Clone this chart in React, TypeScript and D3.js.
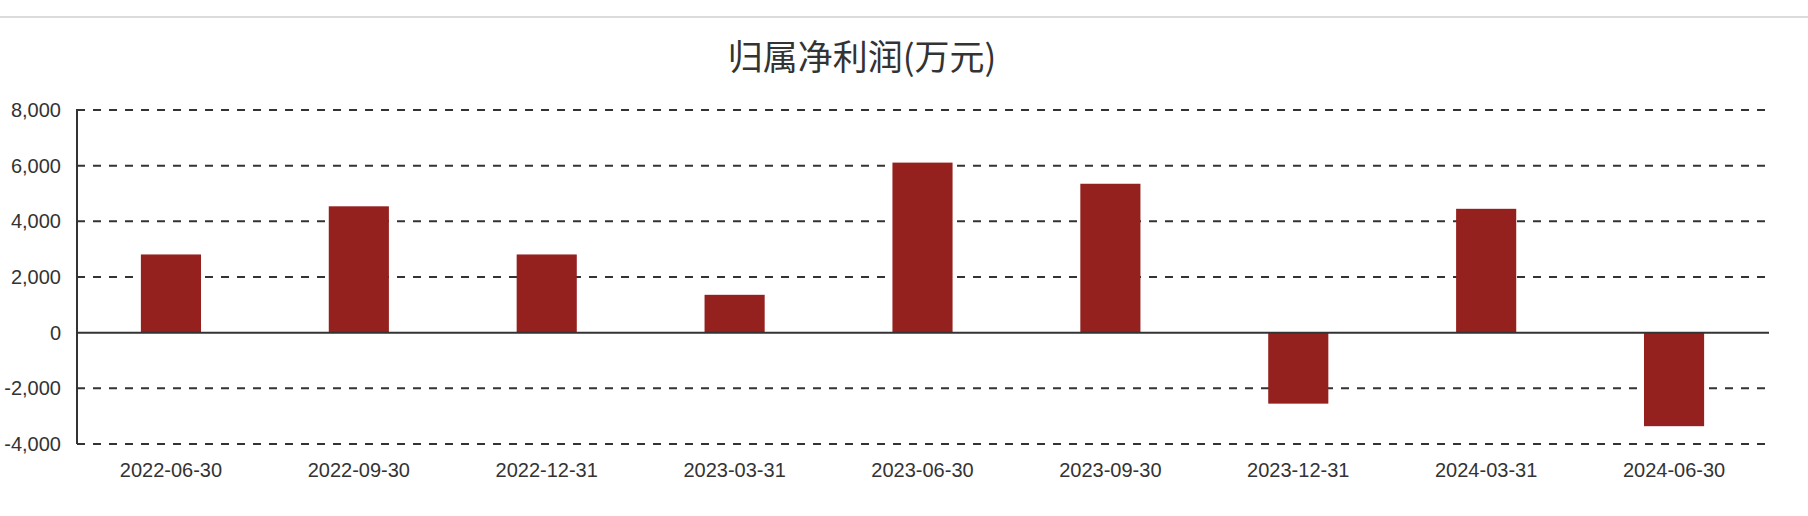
import React from "react";
import * as d3 from "d3";

const title = "归属净利润(万元)";
const categories = [
  "2022-06-30",
  "2022-09-30",
  "2022-12-31",
  "2023-03-31",
  "2023-06-30",
  "2023-09-30",
  "2023-12-31",
  "2024-03-31",
  "2024-06-30",
];
const values = [2810, 4540, 2810, 1360, 6110, 5350, -2550, 4450, -3360];
const yTicks = [-4000, -2000, 0, 2000, 4000, 6000, 8000];

const W = 1808;
const H = 516;
const left = 77;
const right = 1768;
const top = 110;
const bottom = 444;

export default function App() {
  const x = d3
    .scaleBand<string>()
    .domain(categories)
    .range([left, right])
    .paddingInner(0.68)
    .paddingOuter(0.34);
  const y = d3.scaleLinear().domain([-4000, 8000]).range([bottom, top]);
  const fmt = (v: number) => d3.format(",")(v).replace("\u2212", "-");
  const labelFont = "'Liberation Sans', Arial, Helvetica, sans-serif";

  return (
    <svg
      width={W}
      height={H}
      style={{ position: "absolute", left: 0, top: 0, background: "#fff" }}
    >
      <line x1={0} x2={W} y1={17} y2={17} stroke="#dcdcdc" strokeWidth={2} />
      <text
        x={862}
        y={70}
        textAnchor="middle"
        fontSize={35}
        fill="#333"
        fontFamily="'Noto Sans CJK SC', 'Noto Sans', sans-serif"
      >
        {title}
      </text>

      {yTicks
        .filter((t) => t !== 0)
        .map((t) => (
          <line
            key={"g" + t}
            x1={left}
            x2={right - 3}
            y1={y(t)}
            y2={y(t)}
            stroke="#333"
            strokeWidth={2}
            strokeDasharray="8,8"
          />
        ))}

      {categories.map((c, i) => {
        const v = values[i];
        const y0 = y(0);
        const y1 = y(v);
        return (
          <rect
            key={c}
            x={x(c)}
            width={x.bandwidth()}
            y={Math.min(y0, y1)}
            height={Math.abs(y1 - y0)}
            fill="#95211f"
          />
        );
      })}

      <line x1={left} x2={left} y1={top - 1} y2={bottom} stroke="#333" strokeWidth={2} />
      <line x1={left - 1} x2={right + 1} y1={y(0)} y2={y(0)} stroke="#333" strokeWidth={2} />

      {yTicks.map((t) => (
        <text
          key={"yl" + t}
          x={61}
          y={y(t) + 7}
          textAnchor="end"
          fontSize={20}
          fill="#333"
          fontFamily={labelFont}
        >
          {fmt(t)}
        </text>
      ))}

      {categories.map((c) => (
        <text
          key={"xl" + c}
          x={(x(c) as number) + x.bandwidth() / 2}
          y={476.5}
          textAnchor="middle"
          fontSize={20}
          fill="#333"
          fontFamily={labelFont}
        >
          {c}
        </text>
      ))}
    </svg>
  );
}
